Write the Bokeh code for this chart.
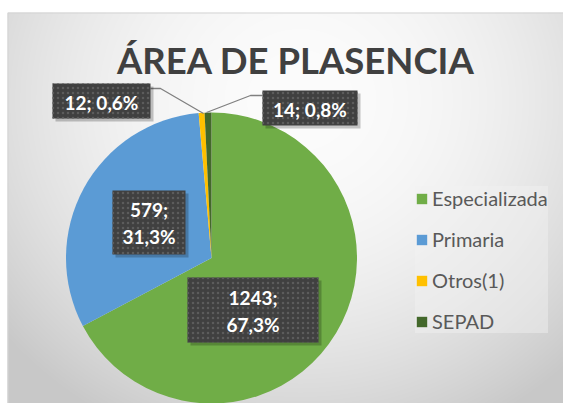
import numpy as np
from bokeh.plotting import figure
from bokeh.models import Range1d, ColumnDataSource, Legend, LegendItem
from bokeh.core.properties import value
from bokeh.embed import file_html
from bokeh.resources import INLINE

# ---- data ----
title_text = "ÁREA DE PLASENCIA"
categories = ["Especializada", "Primaria", "Otros(1)", "SEPAD"]
values = [1243, 579, 12, 14]
colors = ["#70AD47", "#5B9BD5", "#FFC000", "#43682B"]

# layout coordinates are pixel positions on the 579x419 reference canvas
RH = 419
W, H = 563, 403


def Y(sy):
    return RH - sy


p = figure(width=W, height=H, output_backend="svg", toolbar_location=None,
           x_range=Range1d(0, W), y_range=Range1d(RH - H, RH), min_border=0)
p.axis.visible = False
p.grid.visible = False
p.outline_line_color = None
p.background_fill_color = "white"
p.border_fill_color = "white"

# ---- background gradient (chart area) ----
x0, x1, y0, y1 = 7, W, 12, H + 16
nx, ny = (x1 - x0), (y1 - y0)
xs = np.arange(nx) + x0 + 0.5
ys = np.arange(ny) + y0 + 0.5
XX, YY = np.meshgrid(xs, ys)
r2 = ((XX - 300) / 350.0) ** 2 + ((YY - 100) / 330.0) ** 2
g = np.clip(252 - 42 * r2, 200, 252).astype(np.uint32)
img = (np.uint32(255) << 24) | (g << 16) | (g << 8) | g
img = np.ascontiguousarray(img[::-1, :]).astype(np.uint32)
p.image_rgba(image=[img], x=x0, y=Y(y1), dw=nx, dh=ny)
p.line(x=[x1, x0 + 0.5, x0 + 0.5], y=[Y(y0 + 0.5), Y(y0 + 0.5), Y(y1)],
       line_color="#d4d4d4", line_width=1)

# ---- pie ----
vals = np.array(values, dtype=float)
total = vals.sum()
frac = vals / total
cum = np.concatenate([[0.0], np.cumsum(frac)])
ang = np.pi / 2 - 2 * np.pi * cum
src = ColumnDataSource(dict(cat=categories, start=ang[1:], end=ang[:-1], color=colors))
cx, cy, R = 211, 257.5, 145.5
wr = p.wedge(x=cx, y=Y(cy), radius=R, radius_units="screen",
             start_angle="start", end_angle="end", fill_color="color",
             line_color=None, source=src)

# ---- leader lines ----
p.line(x=[150, 160, 203], y=[Y(88), Y(88), Y(113)], line_color="#808080", line_width=1.3)
p.line(x=[262, 250, 206], y=[Y(95), Y(95), Y(112)], line_color="#808080", line_width=1.3)

# ---- data labels ----
pct = [f"{f * 100:.1f}%".replace(".", ",") for f in frac]
boxes = [(187, 318, 277, 342), (112, 185, 190, 254), (52, 150, 83, 118), (262, 357, 90, 125)]
two_line = [True, True, False, False]
lab_font = dict(text_font=value("Lato"), text_font_style="bold", text_font_size="19px",
                text_color="white", text_align="center", text_baseline="middle")
for i, (l, r, t, b) in enumerate(boxes):
    p.quad(left=l + 3, right=r + 3, top=Y(t + 3), bottom=Y(b + 3),
           fill_color="black", fill_alpha=0.22, line_color=None)
    p.quad(left=l, right=r, top=Y(t), bottom=Y(b), fill_color="#404040",
           hatch_pattern="dot", hatch_color="#5c5c5c", hatch_scale=5,
           line_color=None)
    mx, my = (l + r) / 2, (t + b) / 2
    if two_line[i]:
        p.text(x=[mx, mx], y=[Y(my - 13), Y(my + 14)],
               text=[f"{values[i]};", pct[i]], **lab_font)
    else:
        p.text(x=[mx], y=[Y(my + 1)], text=[f"{values[i]}; {pct[i]}"], **lab_font)

# ---- title ----
p.text(x=[295.5], y=[Y(59)], text=[title_text], text_font=value("Lato"),
       text_font_style="bold", text_font_size="36.5px", text_color="#404040",
       text_align="center", text_baseline="middle")

# ---- legend ----
legend = Legend(items=[LegendItem(label=c, renderers=[wr], index=i) for i, c in enumerate(categories)],
                location=(415, H - 333), orientation="vertical",
                glyph_width=13, glyph_height=13, label_height=20, spacing=17,
                padding=8, margin=0, label_standoff=4,
                label_text_font="Lato", label_text_font_size="20px",
                label_text_color="#595959",
                background_fill_color="#f2f2f2", background_fill_alpha=0.45,
                border_line_color=None)
p.add_layout(legend, "center")

open("out.html", "w").write(file_html(p, INLINE))
